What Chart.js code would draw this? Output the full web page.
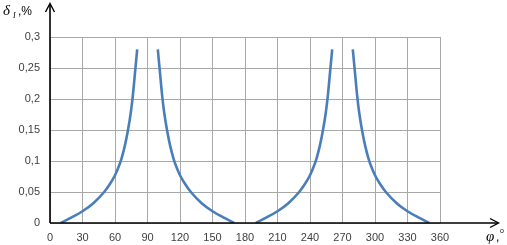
<!DOCTYPE html>
<html>
<head>
<meta charset="utf-8">
<script src="https://cdn.jsdelivr.net/npm/chart.js@4/dist/chart.umd.min.js"></script>
<style>
  html, body { margin: 0; padding: 0; background: #fff; }
  #grafico { display: block; }
</style>
</head>
<body>
<canvas id="grafico" width="507" height="245"></canvas>
<script>
// valores (phi em graus, delta em %)
const phiRamo1 = [10, 20, 30, 40, 50, 55, 60, 63, 66, 69, 72, 74.5, 76.5, 78.5, 80.5];
const deltaRamo1 = [0, 0.009, 0.019, 0.032, 0.05, 0.062, 0.077, 0.089, 0.104, 0.124, 0.15, 0.177, 0.206, 0.243, 0.28];

const phiRamo2 = [99.5, 101.5, 103.5, 105.5, 108, 111, 114, 117, 120, 125, 130, 140, 150, 160, 170];
const deltaRamo2 = [0.28, 0.243, 0.206, 0.177, 0.15, 0.124, 0.104, 0.089, 0.077, 0.062, 0.05, 0.032, 0.019, 0.009, 0];

const phiRamo3 = [190, 200, 210, 220, 230, 235, 240, 243, 246, 249, 252, 254.5, 256.5, 258.5, 260.5];
const deltaRamo3 = [0, 0.009, 0.019, 0.032, 0.05, 0.062, 0.077, 0.089, 0.104, 0.124, 0.15, 0.177, 0.206, 0.243, 0.28];

const phiRamo4 = [279.5, 281.5, 283.5, 285.5, 288, 291, 294, 297, 300, 305, 310, 320, 330, 340, 350];
const deltaRamo4 = [0.28, 0.243, 0.206, 0.177, 0.15, 0.124, 0.104, 0.089, 0.077, 0.062, 0.05, 0.032, 0.019, 0.009, 0];

const xMin = 0, xMax = 360, xStep = 30;
const yMin = 0, yMax = 0.3, yStep = 0.05;

const corLinha = '#4a7ebb';
const corGrade = '#a8a8a8';
const fonteTicks = { family: 'Liberation Sans', size: 11 };

function montarPontos(xs, ys) {
  return xs.map((x, i) => ({ x: x, y: ys[i] }));
}

function ramo(xs, ys) {
  return {
    data: montarPontos(xs, ys),
    borderColor: corLinha,
    borderWidth: 2.6,
    pointRadius: 0,
    fill: false,
    cubicInterpolationMode: 'monotone'
  };
}

// eixos pretos com setas e rótulos dos eixos
const eixosPlugin = {
  id: 'eixos',
  afterDraw(chart) {
    const ctx = chart.ctx;
    const area = chart.chartArea;
    const x0 = area.left;
    const y0 = area.bottom;
    ctx.save();
    ctx.strokeStyle = '#000';
    ctx.lineWidth = 1.6;
    ctx.beginPath();
    ctx.moveTo(x0, y0);
    ctx.lineTo(498, y0);
    ctx.moveTo(x0, y0);
    ctx.lineTo(x0, 4);
    ctx.stroke();

    ctx.lineWidth = 1.4;
    ctx.beginPath();
    ctx.moveTo(490, y0 - 4.5);
    ctx.lineTo(498.5, y0);
    ctx.lineTo(490, y0 + 4.5);
    ctx.moveTo(x0 - 4.5, 12);
    ctx.lineTo(x0, 3.5);
    ctx.lineTo(x0 + 4.5, 12);
    ctx.stroke();

    ctx.fillStyle = '#000';
    ctx.textBaseline = 'alphabetic';
    ctx.font = 'italic 15px "Liberation Serif"';
    ctx.fillText('δ', 3, 15);
    ctx.font = 'italic 8px "Liberation Serif"';
    ctx.fillText('I', 13, 18);
    ctx.font = '12px "Liberation Sans"';
    ctx.fillText(',%', 18, 15);

    ctx.font = 'italic 15px "Liberation Serif"';
    ctx.fillText('φ', 486, 241);
    ctx.font = '12px "Liberation Sans"';
    ctx.fillText(',', 496, 241);
    ctx.font = '7px "Liberation Sans"';
    ctx.fillText('o', 500, 233);
    ctx.restore();
  }
};

const ctx = document.getElementById('grafico').getContext('2d');

new Chart(ctx, {
  type: 'line',
  data: {
    datasets: [
      ramo(phiRamo1, deltaRamo1),
      ramo(phiRamo2, deltaRamo2),
      ramo(phiRamo3, deltaRamo3),
      ramo(phiRamo4, deltaRamo4)
    ]
  },
  options: {
    responsive: false,
    animation: false,
    layout: {
      padding: { top: 37, right: 67, left: 0, bottom: 0 }
    },
    scales: {
      x: {
        type: 'linear',
        min: xMin,
        max: xMax,
        afterFit: (scale) => { scale.height = 22; },
        grid: { color: corGrade, lineWidth: 1, drawTicks: false },
        border: { display: false },
        ticks: {
          stepSize: xStep,
          padding: 8,
          maxRotation: 0,
          color: '#404040',
          font: fonteTicks
        }
      },
      y: {
        min: yMin,
        max: yMax,
        afterFit: (scale) => { scale.width = 50; },
        grid: { color: corGrade, lineWidth: 1, drawTicks: false },
        border: { display: false },
        ticks: {
          stepSize: yStep,
          padding: 10,
          color: '#404040',
          font: fonteTicks,
          callback: (v) => String(Number(v.toFixed(2))).replace('.', ',')
        }
      }
    },
    plugins: {
      legend: { display: false },
      tooltip: { enabled: false }
    }
  },
  plugins: [eixosPlugin]
});
</script>
</body>
</html>
